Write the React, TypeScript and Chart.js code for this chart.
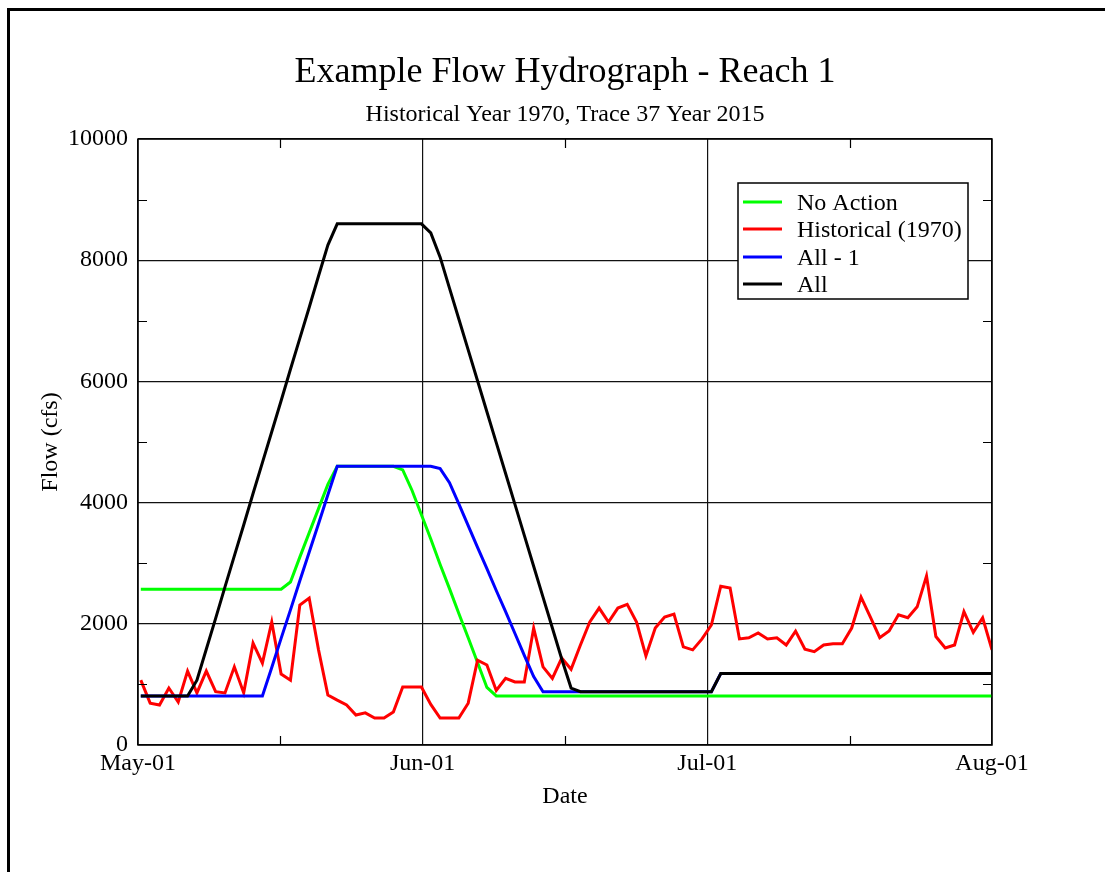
import React, { useEffect, useRef } from 'react';
import { Chart, registerables } from 'chart.js';

Chart.register(...registerables);

const FONT = '"Liberation Serif", "Times New Roman", Times, serif';

const TITLE = 'Example Flow Hydrograph - Reach 1';
const SUBTITLE = 'Historical Year 1970, Trace 37 Year 2015';
const X_TITLE = 'Date';
const Y_TITLE = 'Flow (cfs)';

// x axis: day index from May-01 (0) to the end of July (91)
const X_MIN = -0.3;
const X_MAX = 91;
const X_TICK_LABELS = ['May-01', 'Jun-01', 'Jul-01', 'Aug-01'];
const X_TICK_POS = [-0.3, 30.133, 60.567, 91];
const X_MINOR_POS = [14.917, 45.35, 75.783];

const Y_TICKS = [0, 2000, 4000, 6000, 8000, 10000];
const Y_MINOR = [1000, 3000, 5000, 7000, 9000];

// daily flows (cfs)
const NO_ACTION = [
  2570, 2570, 2570, 2570, 2570, 2570, 2570, 2570, 2570, 2570,
  2570, 2570, 2570, 2570, 2570, 2570, 2690, 3100, 3500, 3900,
  4300, 4600, 4600, 4600, 4600, 4600, 4600, 4600, 4540, 4200,
  3800, 3400, 2980, 2580, 2170, 1770, 1360, 950, 810, 810,
  810, 810, 810, 810, 810, 810, 810, 810, 810, 810,
  810, 810, 810, 810, 810, 810, 810, 810, 810, 810,
  810, 810, 810, 810, 810, 810, 810, 810, 810, 810,
  810, 810, 810, 810, 810, 810, 810, 810, 810, 810,
  810, 810, 810, 810, 810, 810, 810, 810, 810, 810,
  810, 810,
];

const HISTORICAL = [
  1070, 690, 660, 940, 710, 1220, 860, 1220, 880, 860,
  1290, 860, 1680, 1350, 2030, 1170, 1070, 2310, 2425, 1570,
  825, 740, 660, 495, 530, 445, 445, 545, 957, 957,
  957, 670, 445, 445, 445, 690, 1400, 1320, 900, 1100,
  1040, 1040, 1930, 1290, 1100, 1435, 1250, 1650, 2030, 2260,
  2030, 2260, 2320, 2030, 1470, 1930, 2110, 2160, 1620, 1570,
  1750, 1980, 2620, 2590, 1750, 1770, 1850, 1750, 1770, 1650,
  1880, 1580, 1540, 1650, 1670, 1670, 1930, 2440, 2110, 1770,
  1880, 2150, 2100, 2280, 2790, 1790, 1600, 1650, 2200, 1860,
  2100, 1570,
];

const ALL_MINUS_1 = [
  810, 810, 810, 810, 810, 810, 810, 810, 810, 810,
  810, 810, 810, 810, 1280, 1760, 2230, 2710, 3180, 3650,
  4130, 4600, 4600, 4600, 4600, 4600, 4600, 4600, 4600, 4600,
  4600, 4600, 4560, 4330, 3980, 3620, 3260, 2910, 2550, 2200,
  1840, 1480, 1130, 880, 880, 880, 880, 880, 880, 880,
  880, 880, 880, 880, 880, 880, 880, 880, 880, 880,
  880, 880, 1180, 1180, 1180, 1180, 1180, 1180, 1180, 1180,
  1180, 1180, 1180, 1180, 1180, 1180, 1180, 1180, 1180, 1180,
  1180, 1180, 1180, 1180, 1180, 1180, 1180, 1180, 1180, 1180,
  1180, 1180,
];

const ALL = [
  810, 810, 810, 810, 810, 810, 1070, 1580, 2090, 2610,
  3120, 3630, 4150, 4660, 5170, 5680, 6200, 6710, 7220, 7740,
  8250, 8600, 8600, 8600, 8600, 8600, 8600, 8600, 8600, 8600,
  8600, 8450, 8050, 7540, 7030, 6520, 6010, 5500, 4990, 4480,
  3970, 3460, 2950, 2440, 1930, 1420, 940, 880, 880, 880,
  880, 880, 880, 880, 880, 880, 880, 880, 880, 880,
  880, 880, 1180, 1180, 1180, 1180, 1180, 1180, 1180, 1180,
  1180, 1180, 1180, 1180, 1180, 1180, 1180, 1180, 1180, 1180,
  1180, 1180, 1180, 1180, 1180, 1180, 1180, 1180, 1180, 1180,
  1180, 1180,
];

const SERIES_LABELS = ['No Action', 'Historical (1970)', 'All - 1', 'All'];
const SERIES_COLORS = ['#00ff00', '#ff0000', '#0000ff', '#000000'];
const SERIES_VALUES = [NO_ACTION, HISTORICAL, ALL_MINUS_1, ALL];

const toXY = (arr: number[]) => arr.map((y, i) => ({ x: i, y }));

const decorPlugin = {
  id: 'decor',
  afterDraw(chart: any) {
    const { ctx, chartArea: ca, scales } = chart;
    const xs = scales.x;
    const ys = scales.y;
    ctx.save();
    // plot frame
    ctx.strokeStyle = '#000';
    ctx.lineWidth = 1.5;
    ctx.strokeRect(ca.left, ca.top, ca.right - ca.left, ca.bottom - ca.top);
    // minor ticks (inward)
    ctx.lineWidth = 1.2;
    ctx.beginPath();
    for (const v of Y_MINOR) {
      const py = Math.round(ys.getPixelForValue(v)) + 0.5;
      ctx.moveTo(ca.left, py);
      ctx.lineTo(ca.left + 9, py);
      ctx.moveTo(ca.right, py);
      ctx.lineTo(ca.right - 9, py);
    }
    for (const v of X_MINOR_POS) {
      const px = Math.round(xs.getPixelForValue(v)) + 0.5;
      ctx.moveTo(px, ca.bottom);
      ctx.lineTo(px, ca.bottom - 9);
      ctx.moveTo(px, ca.top);
      ctx.lineTo(px, ca.top + 9);
    }
    ctx.stroke();

    // titles
    const cx = (ca.left + ca.right) / 2;
    ctx.fillStyle = '#000';
    ctx.textAlign = 'center';
    ctx.textBaseline = 'alphabetic';
    ctx.font = `36px ${FONT}`;
    ctx.fillText(TITLE, cx, 82);
    ctx.font = `24px ${FONT}`;
    ctx.fillText(SUBTITLE, cx, 121);
    ctx.fillText(X_TITLE, cx, 803);
    ctx.save();
    ctx.translate(57, (ca.top + ca.bottom) / 2);
    ctx.rotate(-Math.PI / 2);
    ctx.fillText(Y_TITLE, 0, 0);
    ctx.restore();

    // legend
    const bx = 738, by = 183, bw = 230, bh = 116;
    ctx.fillStyle = '#fff';
    ctx.fillRect(bx, by, bw, bh);
    ctx.strokeStyle = '#000';
    ctx.lineWidth = 1.5;
    ctx.strokeRect(bx, by, bw, bh);
    const rows = [202, 229, 257, 284];
    ctx.textAlign = 'left';
    ctx.font = `24px ${FONT}`;
    SERIES_LABELS.forEach((lab, i) => {
      const y = rows[i];
      ctx.strokeStyle = SERIES_COLORS[i];
      ctx.lineWidth = 3;
      ctx.beginPath();
      ctx.moveTo(743, y);
      ctx.lineTo(782, y);
      ctx.stroke();
      ctx.fillStyle = '#000';
      ctx.fillText(lab, 797, y + 8);
    });
    ctx.restore();
  },
};

export default function App() {
  const ref = useRef<HTMLCanvasElement | null>(null);

  useEffect(() => {
    if (!ref.current) return;
    // draw order: first dataset is drawn on top, so list in reverse
    const datasets = SERIES_VALUES.map((vals, i) => ({
      label: SERIES_LABELS[i],
      data: toXY(vals),
      borderColor: SERIES_COLORS[i],
      backgroundColor: SERIES_COLORS[i],
      borderWidth: 3,
      pointRadius: 0,
      tension: 0,
      fill: false,
    })).reverse();

    const chart = new Chart(ref.current, {
      type: 'line',
      data: { datasets },
      options: {
        responsive: false,
        animation: false,
        events: [],
        layout: { padding: { top: 139, right: 113, left: 0, bottom: 0 } },
        plugins: {
          legend: { display: false },
          title: { display: false },
          tooltip: { enabled: false },
        },
        scales: {
          x: {
            type: 'linear',
            min: X_MIN,
            max: X_MAX,
            afterBuildTicks: (s: any) => {
              s.ticks = X_TICK_POS.map((v) => ({ value: v }));
            },
            afterFit: (s: any) => {
              s.height = 127;
            },
            ticks: {
              callback: (_v: any, i: number) => X_TICK_LABELS[i],
              font: { family: FONT, size: 24 },
              color: '#000',
              padding: 4,
              maxRotation: 0,
              autoSkip: false,
            },
            grid: { color: '#111', lineWidth: 1.2, drawTicks: false },
            border: { display: false },
          },
          y: {
            type: 'linear',
            min: 0,
            max: 10000,
            afterBuildTicks: (s: any) => {
              s.ticks = Y_TICKS.map((v) => ({ value: v }));
            },
            afterFit: (s: any) => {
              s.width = 138;
            },
            ticks: {
              callback: (v: any) => String(v),
              font: { family: FONT, size: 24 },
              color: '#000',
              padding: 10,
            },
            grid: { color: '#111', lineWidth: 1.2, drawTicks: false },
            border: { display: false },
          },
        },
      },
      plugins: [decorPlugin],
    } as any);

    return () => chart.destroy();
  }, []);

  return (
    <div
      style={{
        position: 'fixed',
        left: 0,
        top: 0,
        width: 1105,
        height: 872,
        overflow: 'hidden',
        background: '#fff',
      }}
    >
      <div
        style={{
          position: 'absolute',
          left: 7,
          top: 8,
          width: 1300,
          height: 1100,
          border: '3px solid #000',
          boxSizing: 'border-box',
        }}
      />
      <canvas
        ref={ref}
        width={1105}
        height={872}
        style={{ position: 'absolute', left: 0, top: 0, display: 'block' }}
      />
    </div>
  );
}
